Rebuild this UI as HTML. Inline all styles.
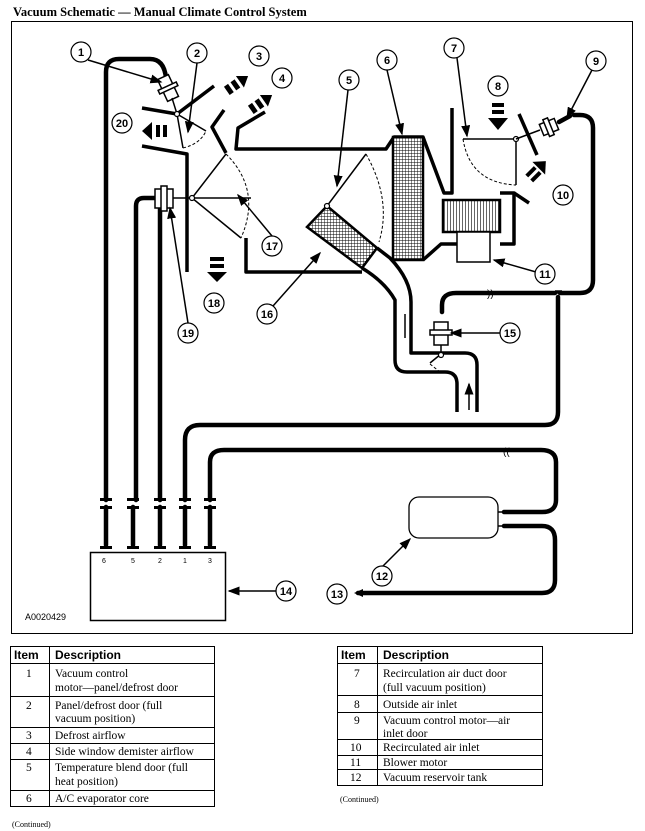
<!DOCTYPE html>
<html><head><meta charset="utf-8"><style>
html,body{margin:0;padding:0;background:#fff;width:645px;height:831px;overflow:hidden}
svg{display:block}
.t{stroke:#000;stroke-width:4.5;fill:none;stroke-linecap:round;stroke-linejoin:round}
.w{stroke:#000;stroke-width:3.5;fill:none;stroke-linejoin:round}
.n{stroke:#000;stroke-width:1.5;fill:none}
.d{stroke:#000;stroke-width:1;fill:none;stroke-dasharray:3 2}
.c{fill:#fff;stroke:#000;stroke-width:1.2}
.l{font-family:"Liberation Sans",sans-serif;font-size:11px;font-weight:bold;text-anchor:middle}
.s{font-family:"Liberation Serif",serif;font-size:11.5px}
.h{font-family:"Liberation Sans",sans-serif;font-size:12px;font-weight:bold}
</style></head><body>
<svg width="645" height="831" viewBox="0 0 645 831" xmlns="http://www.w3.org/2000/svg">
<defs>
<pattern id="g" width="3" height="3" patternUnits="userSpaceOnUse"><rect width="3" height="3" fill="#fff"/><path d="M0 0H3M0 0V3" stroke="#000" stroke-width="0.9"/></pattern>
<pattern id="v" width="3" height="10" patternUnits="userSpaceOnUse"><rect width="3" height="10" fill="#fff"/><path d="M0 0V10" stroke="#000" stroke-width="1.2"/></pattern>
<marker id="a" markerWidth="8" markerHeight="6" refX="7" refY="3" orient="auto"><path d="M0,0L8,3L0,6z"/></marker>
</defs>
<text x="13" y="16" font-family="Liberation Serif,serif" font-size="12.5" font-weight="bold">Vacuum Schematic — Manual Climate Control System</text>
<rect x="11.5" y="21.5" width="621" height="612" fill="none" stroke="#000" stroke-width="1"/>

<!-- left tubes -->
<path class="t" d="M106 500V72Q106 59 119 59H150Q164 59 166 78"/>
<path class="t" d="M155 198H144Q136 198 136 206V500"/>
<path class="t" d="M160 208V500"/>
<path class="t" d="M185 500V440Q185 425 200 425H545Q558 425 558 412V297"/>
<path class="t" d="M210 500V462Q210 450 224 450H541Q556 450 556 462V500Q556 512 542 512H504"/>
<path class="t" d="M504 526H542Q555 526 555 540V580Q555 593 542 593H358"/>
<path d="M354 593l9-4v8z"/>
<g class="t"><path d="M106 507V545M133 507V545M160 507V545M185 507V545M210 507V545"/></g>
<g fill="#000"><rect x="100" y="498" width="12" height="3"/><rect x="127" y="498" width="12" height="3"/><rect x="154" y="498" width="12" height="3"/><rect x="179" y="498" width="12" height="3"/><rect x="204" y="498" width="12" height="3"/>
<rect x="100" y="506" width="12" height="3"/><rect x="127" y="506" width="12" height="3"/><rect x="154" y="506" width="12" height="3"/><rect x="179" y="506" width="12" height="3"/><rect x="204" y="506" width="12" height="3"/>
<rect x="100" y="546" width="12" height="3"/><rect x="127" y="546" width="12" height="3"/><rect x="154" y="546" width="12" height="3"/><rect x="179" y="546" width="12" height="3"/><rect x="204" y="546" width="12" height="3"/></g>
<rect x="90.5" y="552.5" width="135" height="68" fill="#fff" stroke="#000" stroke-width="1.5"/>
<g font-family="Liberation Sans,sans-serif" font-size="7" text-anchor="middle"><text x="104" y="563">6</text><text x="133" y="563">5</text><text x="160" y="563">2</text><text x="185" y="563">1</text><text x="210" y="563">3</text></g>
<text x="25" y="620" font-family="Liberation Sans,sans-serif" font-size="9">A0020429</text>
<rect x="409" y="497" width="89" height="41" rx="10" fill="#fff" stroke="#000" stroke-width="1.3"/>
<path class="n" d="M498 512H506M498 526H506"/>
<text x="503" y="455" font-size="10" font-family="Liberation Sans">((</text>

<!-- vac tube top right -->
<path class="t" d="M442 312V305Q442 293 456 293H555"/>
<path class="t" d="M560 293H580Q593 293 593 280V128Q593 115 580 115H574"/>
<text x="487" y="297" font-size="10" font-family="Liberation Sans">))</text>
<path class="w" d="M555 292H562" stroke-width="2"/>

<!-- motor 1 -->
<g transform="translate(168,88) rotate(-25)"><rect x="-6" y="-12" width="12" height="24" fill="#fff" stroke="#000" stroke-width="1.5"/><rect x="-10" y="-2" width="20" height="4" fill="#fff" stroke="#000" stroke-width="1.5"/></g>
<path class="n" d="M172 98L177 114"/>
<!-- door 2 -->
<path class="w" d="M142 108L177 114L214 86"/>
<path class="n" d="M177 114L206 131M177 114L183 148"/>
<path class="d" d="M183 148Q200 144 206 131"/>
<circle cx="177" cy="114" r="2.5" class="c"/>
<path class="w" d="M142 146L187 154V272"/>
<!-- arrow 20 -->
<g fill="#000"><rect x="156" y="125" width="4" height="12"/><rect x="163" y="125" width="4" height="12"/><path d="M142 131L152 122V140z"/></g>
<!-- defrost ducts -->
<path class="w" d="M224 110L212 127L226 153"/>
<path class="w" d="M265 112L238 128L236 149H386L394 137H423L444 193H452V108"/>
<!-- arrows 3,4 -->
<g fill="#000" transform="translate(230,85) rotate(-35)"><rect x="-6" y="-2" width="5" height="10"/><rect x="2" y="-2" width="5" height="10"/><path d="M10 -4L20 3L10 10z"/></g>
<g fill="#000" transform="translate(254,104) rotate(-35)"><rect x="-6" y="-2" width="5" height="10"/><rect x="2" y="-2" width="5" height="10"/><path d="M10 -4L20 3L10 10z"/></g>
<!-- door 17 -->
<path class="n" d="M226 154L192 198L241 238M192 198H251"/>
<path class="d" d="M226 154Q262 190 241 238"/>
<circle cx="192" cy="198" r="2.5" class="c"/>
<path class="n" d="M173 198H189"/>
<rect x="155" y="189" width="18" height="19" fill="#fff" stroke="#000" stroke-width="1.5"/>
<rect x="161" y="186" width="6" height="25" fill="#fff" stroke="#000" stroke-width="1.5"/>
<path class="w" d="M246 238V272H362"/>
<!-- arrow 18 -->
<g fill="#000"><rect x="210" y="257" width="14" height="4"/><rect x="210" y="264" width="14" height="4"/><path d="M207 272H227L217 282z"/></g>
<!-- evaporator -->
<rect x="393" y="137" width="30" height="123" fill="url(#g)" stroke="#000" stroke-width="2.5"/>
<path class="w" d="M423 260L441 244H457M500 244H514V193H500"/>
<path class="w" d="M514 193L529 203"/>
<rect x="443" y="200" width="57" height="32" fill="url(#v)" stroke="#000" stroke-width="2.5"/>
<rect x="457" y="232" width="33" height="30" fill="#fff" stroke="#000" stroke-width="1.5"/>
<!-- door 7 -->
<path class="n" d="M463 139H516V185"/>
<path class="d" d="M463 139Q470 183 516 185"/>
<path class="w" d="M519 114L537 155"/>
<circle cx="516" cy="139" r="2.5" class="c"/>
<path class="n" d="M516 139L540 130"/>
<g transform="translate(549,127) rotate(-22)"><rect x="-8" y="-6" width="16" height="12" fill="#fff" stroke="#000" stroke-width="1.5"/><rect x="-3" y="-9" width="5" height="18" fill="#fff" stroke="#000" stroke-width="1.5"/></g>
<path class="t" d="M559 122L570 116"/>
<g fill="#000"><rect x="492" y="103" width="12" height="4"/><rect x="492" y="110" width="12" height="4"/><path d="M488 118H508L498 130z"/></g>
<g fill="#000" transform="translate(531,176) rotate(-135)"><rect x="-6" y="-3" width="4" height="12"/><rect x="1" y="-3" width="4" height="12"/><path d="M-9 11H9L0 21z"/></g>
<!-- blend door 5 & heater core -->
<path class="n" d="M327 206L366 154"/>
<path class="d" d="M366 154Q392 200 379 242"/>
<polygon points="327,206 307,227 362,268 377,248" fill="url(#g)" stroke="#000" stroke-width="2.5"/>
<circle cx="327" cy="206" r="2.5" class="c"/>
<path class="w" d="M362 268Q385 282 395 300V360Q395 372 407 372H445Q457 372 457 384V412"/>
<path class="w" d="M377 248L390 258Q411 280 411 302V353H465Q477 353 477 365V412"/>
<path class="n" d="M405 338V314M469 410V384" marker-end="url(#a)"/>
<!-- motor 15 -->
<rect x="434" y="322" width="14" height="23" fill="#fff" stroke="#000" stroke-width="1.5"/>
<rect x="430" y="330" width="22" height="5" fill="#fff" stroke="#000" stroke-width="1.5"/>
<path class="n" d="M441 345V354M441 354L430 363"/>
<path class="d" d="M430 364L440 372"/>
<circle cx="441" cy="355" r="2.5" class="c"/>

<!-- leader lines -->
<g class="n" stroke-width="1" marker-end="url(#a)">
<path d="M88 60L161 82"/><path d="M197 63L188 132"/><path d="M348 90L337 186"/><path d="M387 70L402 134"/>
<path d="M457 58L467 136"/><path d="M592 70L567 118"/><path d="M536 272L494 260"/><path d="M272 236L238 195"/>
<path d="M273 306L320 253"/><path d="M188 323L170 208"/><path d="M500 333L451 333"/>
<path d="M383 566L410 539"/><path d="M276 591L229 591"/>
</g>
<g>
<circle class="c" cx="81" cy="52" r="10"/><text class="l" x="81" y="56">1</text>
<circle class="c" cx="197" cy="53" r="10"/><text class="l" x="197" y="57">2</text>
<circle class="c" cx="259" cy="56" r="10"/><text class="l" x="259" y="60">3</text>
<circle class="c" cx="282" cy="78" r="10"/><text class="l" x="282" y="82">4</text>
<circle class="c" cx="349" cy="80" r="10"/><text class="l" x="349" y="84">5</text>
<circle class="c" cx="387" cy="60" r="10"/><text class="l" x="387" y="64">6</text>
<circle class="c" cx="454" cy="48" r="10"/><text class="l" x="454" y="52">7</text>
<circle class="c" cx="498" cy="86" r="10"/><text class="l" x="498" y="90">8</text>
<circle class="c" cx="596" cy="61" r="10"/><text class="l" x="596" y="65">9</text>
<circle class="c" cx="563" cy="195" r="10"/><text class="l" x="563" y="199">10</text>
<circle class="c" cx="545" cy="274" r="10"/><text class="l" x="545" y="278">11</text>
<circle class="c" cx="382" cy="576" r="10"/><text class="l" x="382" y="580">12</text>
<circle class="c" cx="337" cy="594" r="10"/><text class="l" x="337" y="598">13</text>
<circle class="c" cx="286" cy="591" r="10"/><text class="l" x="286" y="595">14</text>
<circle class="c" cx="510" cy="333" r="10"/><text class="l" x="510" y="337">15</text>
<circle class="c" cx="267" cy="314" r="10"/><text class="l" x="267" y="318">16</text>
<circle class="c" cx="272" cy="246" r="10"/><text class="l" x="272" y="250">17</text>
<circle class="c" cx="214" cy="303" r="10"/><text class="l" x="214" y="307">18</text>
<circle class="c" cx="188" cy="333" r="10"/><text class="l" x="188" y="337">19</text>
<circle class="c" cx="122" cy="123" r="10"/><text class="l" x="122" y="127">20</text>
</g>

<!-- left table -->
<g stroke="#000" stroke-width="1" fill="none">
<rect x="10.5" y="646.5" width="204" height="160"/>
<path d="M49.5 646.5V806.5M10.5 663.5H214.5M10.5 696.5H214.5M10.5 727.5H214.5M10.5 743.5H214.5M10.5 759.5H214.5M10.5 790.5H214.5"/>
<rect x="337.5" y="646.5" width="205" height="139"/>
<path d="M377.5 646.5V785.5M337.5 663.5H542.5M337.5 695.5H542.5M337.5 712.5H542.5M337.5 739.5H542.5M337.5 755.5H542.5M337.5 769.5H542.5"/>
</g>
<text class="h" x="14" y="659">Item</text><text class="h" x="55" y="659">Description</text>
<g class="s">
<text x="26" y="677">1</text><text x="55" y="677">Vacuum control</text><text x="55" y="691">motor—panel/defrost door</text>
<text x="26" y="709">2</text><text x="55" y="709">Panel/defrost door (full</text><text x="55" y="722">vacuum position)</text>
<text x="26" y="739">3</text><text x="55" y="739">Defrost airflow</text>
<text x="26" y="755">4</text><text x="55" y="755">Side window demister airflow</text>
<text x="26" y="771">5</text><text x="55" y="771">Temperature blend door (full</text><text x="55" y="785">heat position)</text>
<text x="26" y="802">6</text><text x="55" y="802">A/C evaporator core</text>
</g>
<text x="12" y="827" font-family="Liberation Serif,serif" font-size="8">(Continued)</text>
<text class="h" x="341" y="659">Item</text><text class="h" x="383" y="659">Description</text>
<g class="s">
<text x="354" y="677">7</text><text x="383" y="677">Recirculation air duct door</text><text x="383" y="691">(full vacuum position)</text>
<text x="354" y="708">8</text><text x="383" y="708">Outside air inlet</text>
<text x="354" y="724">9</text><text x="383" y="724">Vacuum control motor—air</text><text x="383" y="737">inlet door</text>
<text x="350" y="751">10</text><text x="383" y="751">Recirculated air inlet</text>
<text x="350" y="766">11</text><text x="383" y="766">Blower motor</text>
<text x="350" y="781">12</text><text x="383" y="781">Vacuum reservoir tank</text>
</g>
<text x="340" y="802" font-family="Liberation Serif,serif" font-size="8">(Continued)</text>
</svg>
</body></html>
